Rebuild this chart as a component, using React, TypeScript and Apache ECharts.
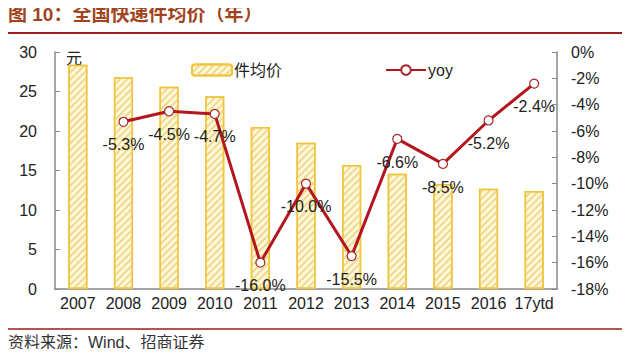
import React, { useEffect, useRef } from "react";
import * as echarts from "echarts";

const categories = ["2007", "2008", "2009", "2010", "2011", "2012", "2013", "2014", "2015", "2016", "17ytd"];
const priceValues = [28.4, 26.8, 25.6, 24.4, 20.5, 18.5, 15.7, 14.6, 13.3, 12.7, 12.4];
const yoyValues: (number | null)[] = [null, -5.3, -4.5, -4.7, -16.0, -10.0, -15.5, -6.6, -8.5, -5.2, -2.4];
const leftTicks = [0, 5, 10, 15, 20, 25, 30];
const rightTicks = [-18, -16, -14, -12, -10, -8, -6, -4, -2, 0];

const FONT = "Arial, 'Liberation Sans', 'Noto Sans CJK SC', sans-serif";

export default function App() {
  const ref = useRef<HTMLDivElement>(null);
  useEffect(() => {
    if (!ref.current) return;
    const chart = echarts.init(ref.current, null, { renderer: "svg" });
    chart.setOption({
      animation: false,
      backgroundColor: "#ffffff",
      textStyle: { fontFamily: FONT },
      grid: { left: 55, right: 83, top: 52, bottom: 68 },
      legend: [
        {
          data: [{ name: "件均价" }],
          left: 186,
          top: 57,
          itemWidth: 40,
          itemHeight: 11,
          textStyle: { fontSize: 16, color: "#222", fontFamily: FONT, padding: [0, 0, 0, -3] },
        },
        {
          data: [{ name: "yoy" }],
          left: 380,
          top: 57,
          itemWidth: 40,
          itemHeight: 12,
          textStyle: { fontSize: 16, color: "#222", fontFamily: FONT, padding: [0, 0, 0, -3] },
        },
      ],
      xAxis: {
        type: "category",
        data: categories,
        boundaryGap: true,
        axisLine: { lineStyle: { color: "#888", width: 1.5 } },
        axisTick: { inside: true, length: 6, interval: 0, lineStyle: { color: "#888" } },
        axisLabel: { fontSize: 16, color: "#222", margin: 6, interval: 0, hideOverlap: false, fontFamily: FONT },
      },
      yAxis: [
        {
          type: "value",
          min: leftTicks[0],
          max: leftTicks[leftTicks.length - 1],
          interval: 5,
          splitLine: { show: false },
          axisLine: { show: true, lineStyle: { color: "#888", width: 1.5 } },
          axisTick: { show: true, inside: true, length: 5, lineStyle: { color: "#888" } },
          axisLabel: { fontSize: 16, color: "#222", margin: 18, fontFamily: FONT },
        },
        {
          type: "value",
          min: rightTicks[0],
          max: rightTicks[rightTicks.length - 1],
          interval: 2,
          position: "right",
          splitLine: { show: false },
          axisLine: { show: true, lineStyle: { color: "#888", width: 1.5 } },
          axisTick: { show: true, inside: true, length: 5, lineStyle: { color: "#888" } },
          axisLabel: { fontSize: 16, color: "#222", margin: 14, formatter: "{value}%", fontFamily: FONT },
        },
      ],
      series: [
        {
          name: "件均价",
          type: "bar",
          data: priceValues,
          barWidth: "42%",
          itemStyle: {
            color: "#FFF8DA",
            borderColor: "#F0C53E",
            borderWidth: 1.5,
            decal: {
              symbol: "rect",
              dashArrayX: [1, 0],
              dashArrayY: [1.5, 3],
              rotation: -Math.PI / 4,
              color: "#F0D88E",
            },
          },
        },
        {
          name: "yoy",
          type: "line",
          yAxisIndex: 1,
          data: yoyValues,
          symbol: "circle",
          symbolSize: 9,
          showAllSymbol: true,
          lineStyle: { color: "#B3161F", width: 3 },
          itemStyle: { color: "#FFFFFF", borderColor: "#A8252A", borderWidth: 1.2 },
          label: {
            show: true,
            position: "bottom",
            distance: 10,
            fontSize: 16,
            color: "#222",
            fontFamily: FONT,
            formatter: (p: any) => p.value.toFixed(1) + "%",
          },
        },
      ],
      graphic: [
        {
          type: "text",
          left: 8,
          top: 5,
          style: {
            text: "图 10：全国快递件均价（年）",
            fontSize: 19,
            fontWeight: "bold",
            fill: "#A0441E",
            fontFamily: FONT,
          },
        },
        {
          type: "line",
          shape: { x1: 8, y1: 33, x2: 622, y2: 33 },
          style: { stroke: "#9E1B1B", lineWidth: 2 },
        },
        {
          type: "text",
          left: 66,
          top: 50,
          style: { text: "元", fontSize: 16, fill: "#222", fontFamily: FONT },
        },
        {
          type: "line",
          shape: { x1: 8, y1: 329, x2: 622, y2: 329 },
          style: { stroke: "#9E1B1B", lineWidth: 1.5 },
        },
        {
          type: "text",
          left: 8,
          top: 334,
          style: {
            text: "资料来源：Wind、招商证券",
            fontSize: 16,
            fill: "#333",
            fontFamily: FONT,
          },
        },
      ],
    });
    return () => chart.dispose();
  }, []);
  return <div ref={ref} style={{ width: 640, height: 357, margin: -8 }} />;
}
